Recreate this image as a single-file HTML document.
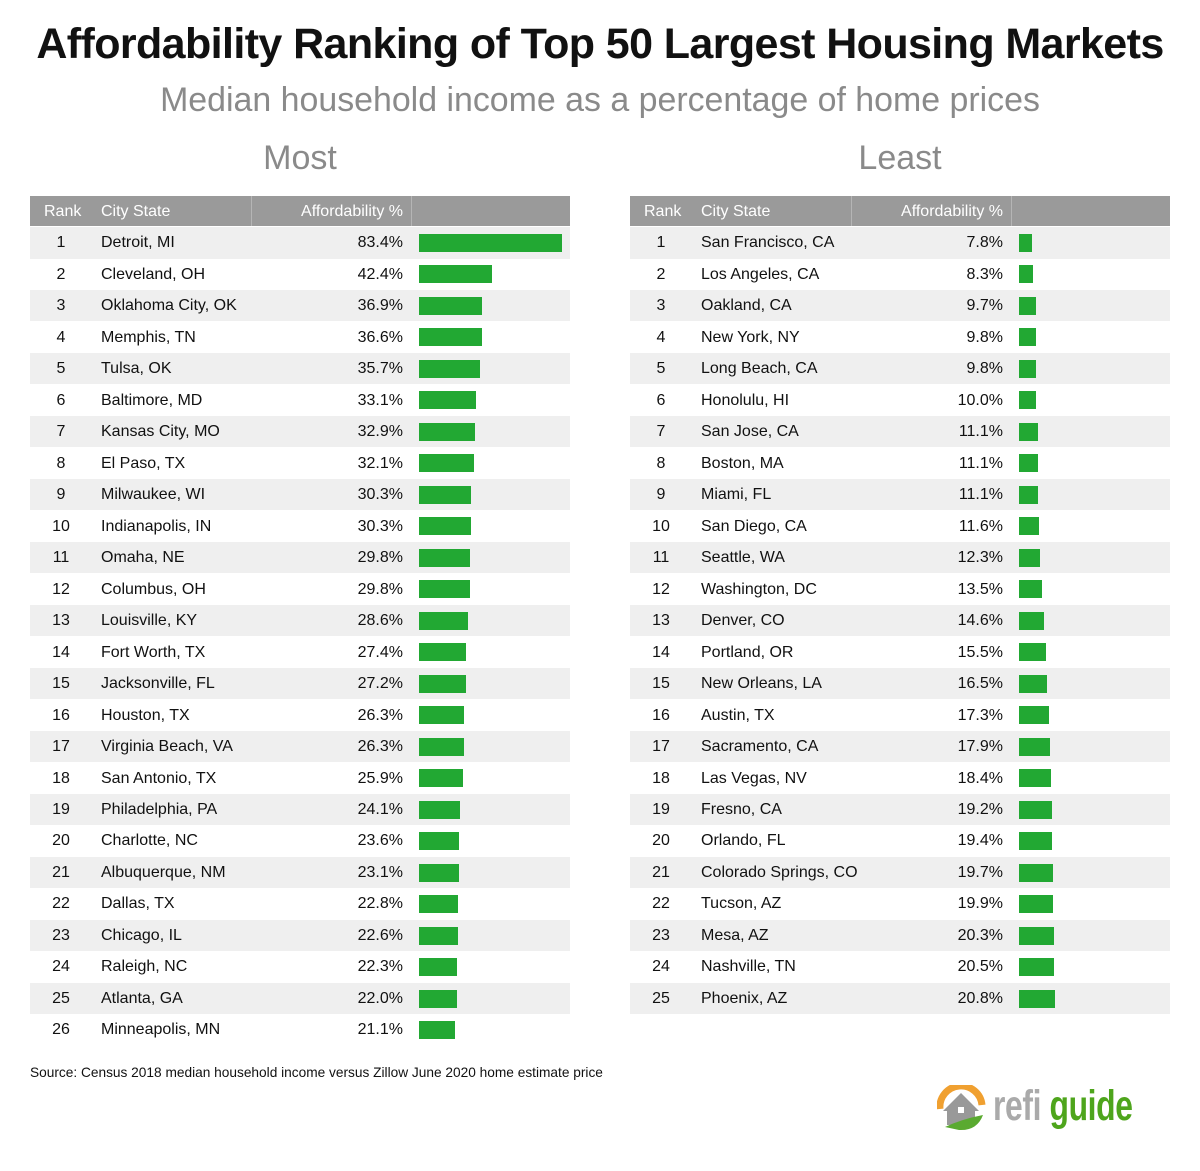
<!DOCTYPE html>
<html><head><meta charset="utf-8"><style>
body{margin:0;width:1200px;height:1171px;background:#fff;font-family:"Liberation Sans",sans-serif;position:relative;overflow:hidden}
.t{position:absolute;white-space:nowrap}
#title{left:0;width:1200px;text-align:center;top:20px;font-size:43px;font-weight:bold;color:#111;letter-spacing:-0.6px}
#sub{left:0;width:1200px;text-align:center;top:81px;font-size:33.9px;color:#8a8a8a}
.h{font-size:34px;color:#8a8a8a;top:139px;width:540px;text-align:center}
.tbl{position:absolute;top:196px;width:540px}
.hdr{position:absolute;left:0;top:0;width:540px;height:30px;background:#9a9a9a;color:#fff;font-size:16px}
.row{position:absolute;left:0;width:540px;height:31.5px;font-size:16px;color:#111}
.row span,.hdr span{position:absolute;top:52%;transform:translateY(-50%)}
.bar{position:absolute;height:18px;top:7px;background:#22a833}
</style></head><body>
<div id="title" class="t">Affordability Ranking of Top 50 Largest Housing Markets</div>
<div id="sub" class="t">Median household income as a percentage of home prices</div>
<div class="t h" style="left:30px">Most</div>
<div class="t h" style="left:630px">Least</div>
<div id="left" class="tbl" style="left:30px"></div>
<div id="right" class="tbl" style="left:630px"></div>
<div class="t" style="left:30px;top:1065px;font-size:13.7px;color:#111">Source: Census 2018 median household income versus Zillow June 2020 home estimate price</div>
<div class="t" style="left:937px;top:1085px;width:230px;height:50px">
<svg width="50" height="48" viewBox="0 0 50 48"><path d="M3 24 A21 21 0 0 1 45 20" fill="none" stroke="#f0a030" stroke-width="7"/><polygon points="6,26 24,8 42,26 38,26 38,40 10,40 10,26" fill="#999"/><rect x="21" y="22" width="6" height="6" fill="#fff"/><path d="M8 42 Q25 34 46 30 Q40 46 22 45 Z" fill="#5aaa30"/></svg>
<span style="position:absolute;left:56px;top:-3px;font-size:43px;font-weight:bold;color:#aaa;letter-spacing:-0.5px;transform:scaleX(0.74);transform-origin:left">refi <span style="color:#4ea51c">guide</span></span>
</div>
<script>
const mostCities=["Detroit, MI","Cleveland, OH","Oklahoma City, OK","Memphis, TN","Tulsa, OK","Baltimore, MD","Kansas City, MO","El Paso, TX","Milwaukee, WI","Indianapolis, IN","Omaha, NE","Columbus, OH","Louisville, KY","Fort Worth, TX","Jacksonville, FL","Houston, TX","Virginia Beach, VA","San Antonio, TX","Philadelphia, PA","Charlotte, NC","Albuquerque, NM","Dallas, TX","Chicago, IL","Raleigh, NC","Atlanta, GA","Minneapolis, MN"];
const mostValues=[83.4,42.4,36.9,36.6,35.7,33.1,32.9,32.1,30.3,30.3,29.8,29.8,28.6,27.4,27.2,26.3,26.3,25.9,24.1,23.6,23.1,22.8,22.6,22.3,22.0,21.1];
const leastCities=["San Francisco, CA","Los Angeles, CA","Oakland, CA","New York, NY","Long Beach, CA","Honolulu, HI","San Jose, CA","Boston, MA","Miami, FL","San Diego, CA","Seattle, WA","Washington, DC","Denver, CO","Portland, OR","New Orleans, LA","Austin, TX","Sacramento, CA","Las Vegas, NV","Fresno, CA","Orlando, FL","Colorado Springs, CO","Tucson, AZ","Mesa, AZ","Nashville, TN","Phoenix, AZ"];
const leastValues=[7.8,8.3,9.7,9.8,9.8,10.0,11.1,11.1,11.1,11.6,12.3,13.5,14.6,15.5,16.5,17.3,17.9,18.4,19.2,19.4,19.7,19.9,20.3,20.5,20.8];
const xScale=v=>v*143/83.4;
function build(id,cities,vals){
  const t=document.getElementById(id);
  const h=document.createElement('div');h.className='hdr';
  
  
  h.innerHTML='<span style="left:14px">Rank</span><span style="left:71px">City State</span><span style="right:167px">Affordability %</span><div style="position:absolute;left:221px;top:0;width:1px;height:30px;background:#b5b5b5"></div><div style="position:absolute;left:381px;top:0;width:1px;height:30px;background:#b5b5b5"></div>';
  t.appendChild(h);
  cities.forEach((c,i)=>{
    const r=document.createElement('div');r.className='row';
    
    
    r.style.top=(31+i*31.48)+'px';
    if(i%2==0)r.style.background='#efefef';
    r.innerHTML='<span style="left:0;width:62px;text-align:center">'+(i+1)+'</span><span style="left:71px">'+c+'</span><span style="right:167px">'+vals[i].toFixed(1)+'%</span>';
    const b=document.createElement('div');b.className='bar';
    
    
    b.style.left='389px';b.style.width=xScale(vals[i])+'px';
    r.appendChild(b);t.appendChild(r);
  });
}
build('left',mostCities,mostValues);
build('right',leastCities,leastValues);
</script>
</body></html>
